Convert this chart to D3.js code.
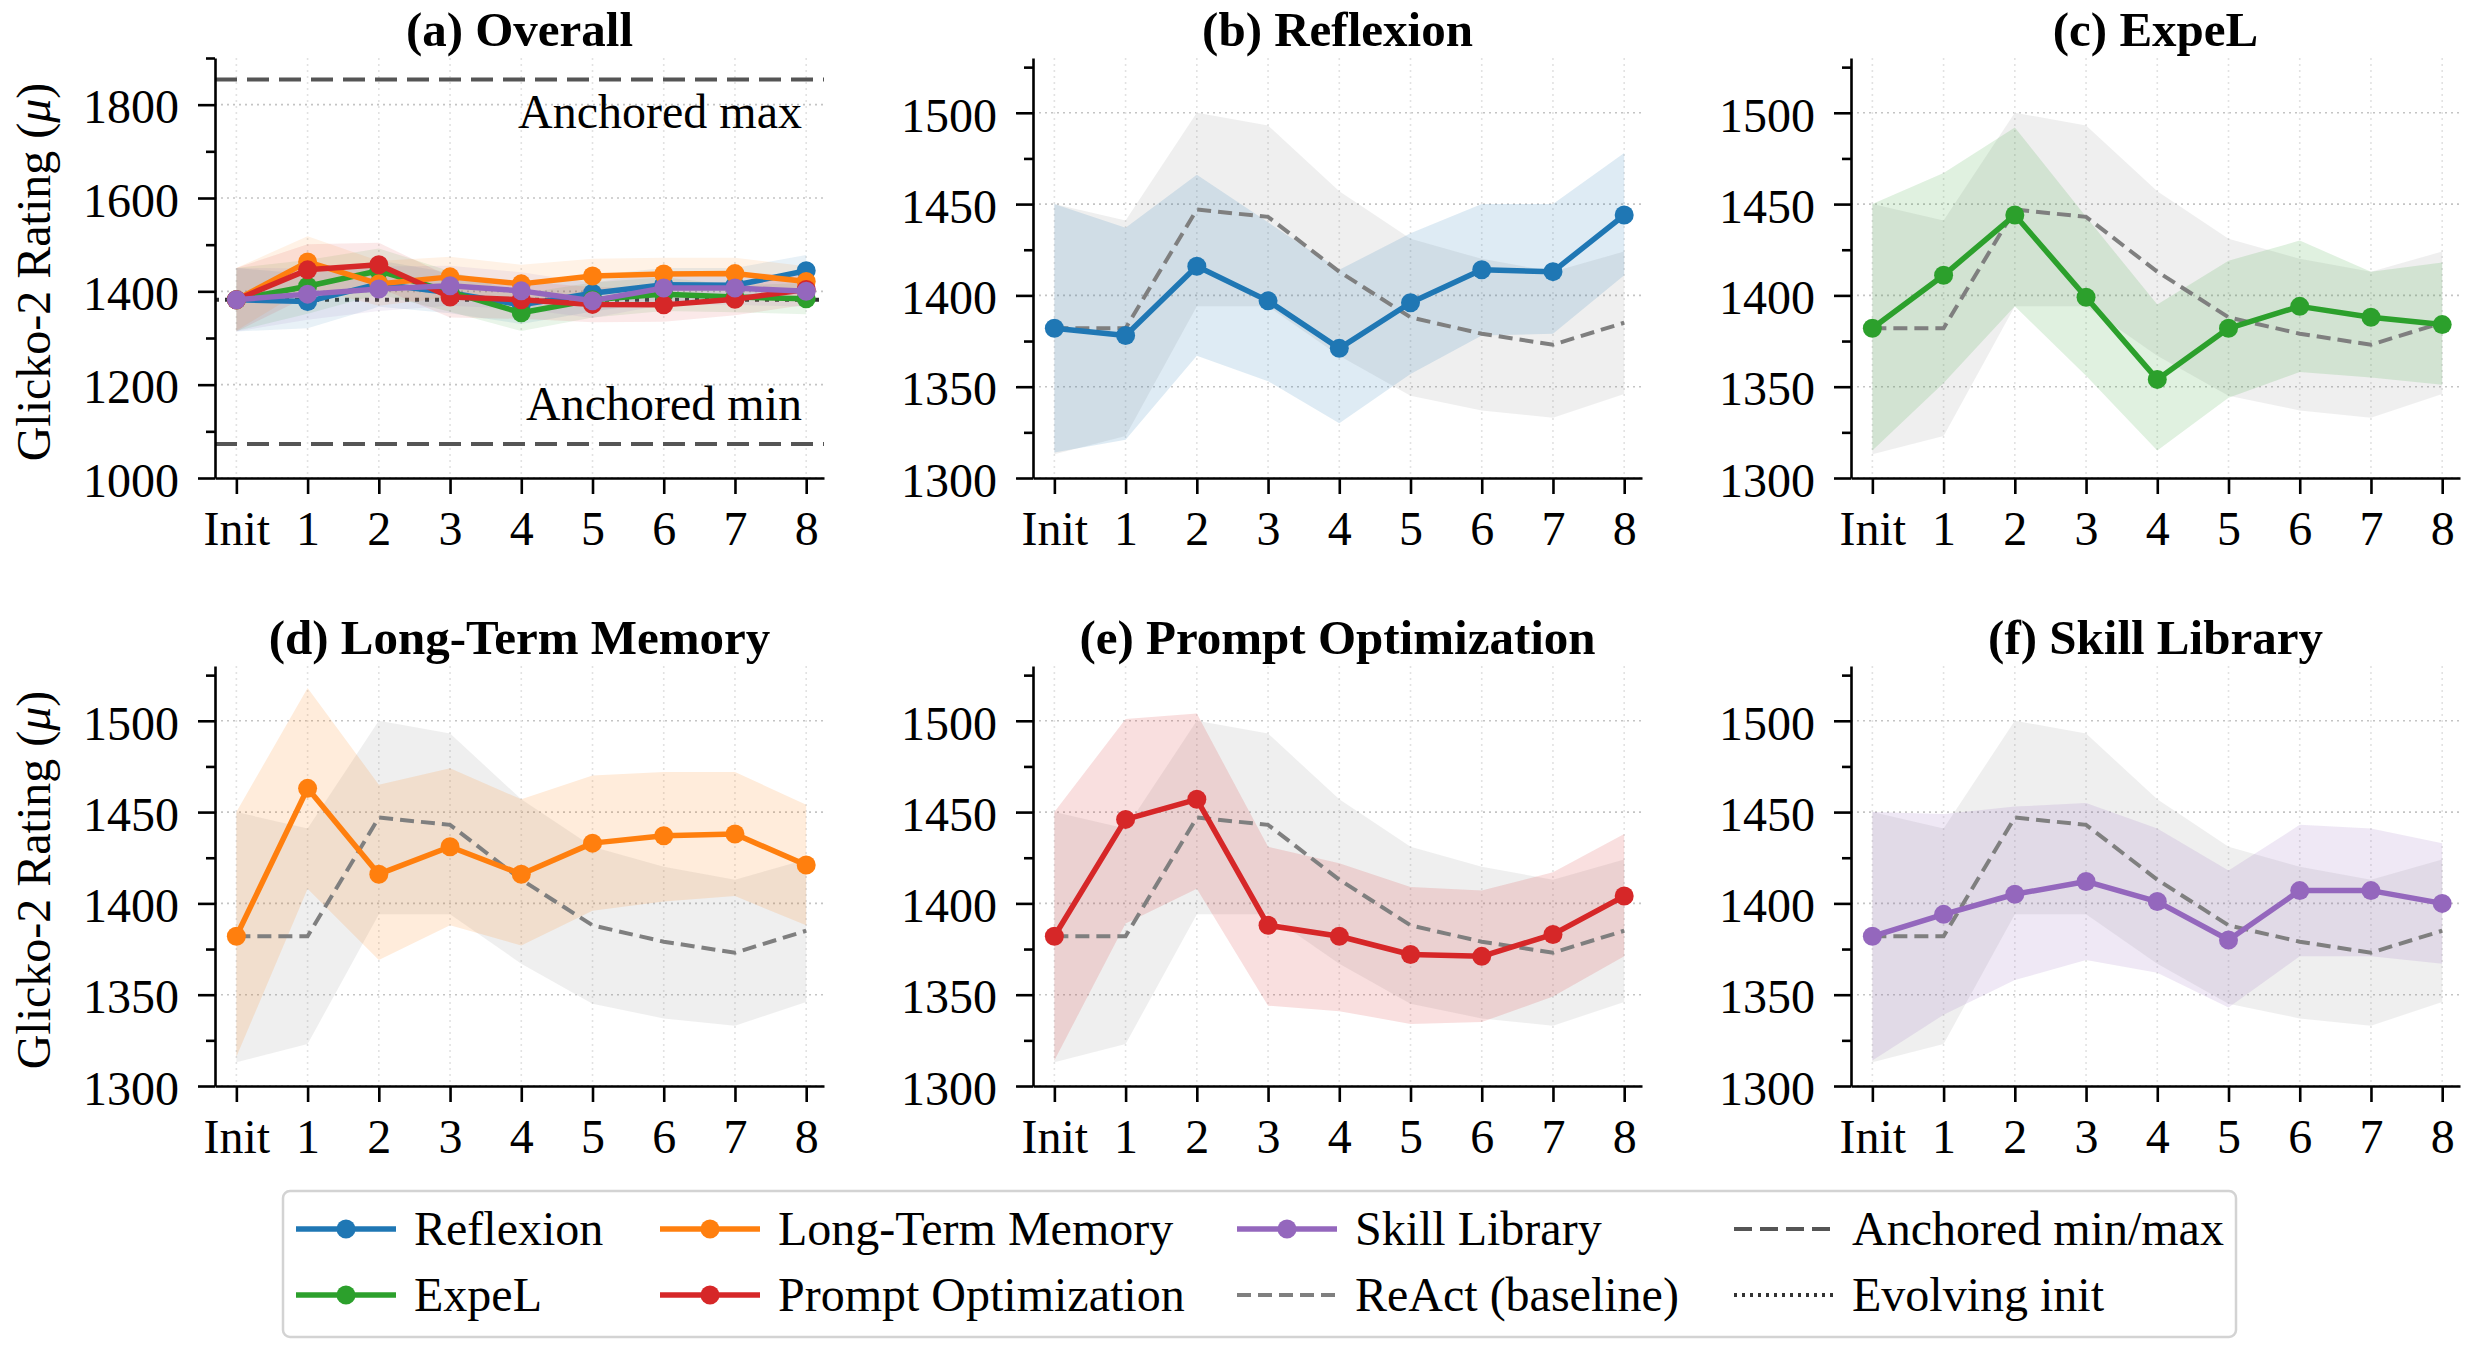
<!DOCTYPE html>
<html>
<head>
<meta charset="utf-8">
<script src="https://cdn.jsdelivr.net/npm/d3@7"></script>
<style>
  body { margin: 0; background: #fff; }
  svg text { font-family: "Liberation Serif", "DejaVu Serif", serif; fill: #000; }
</style>
</head>
<body>
<svg width="2470" height="1348"></svg>
<script>
// x categories
var steps = ["Init", "1", "2", "3", "4", "5", "6", "7", "8"];

var methodNames = ["Reflexion", "ExpeL", "Long-Term Memory", "Prompt Optimization", "Skill Library"];
var methodColors = ["#1f77b4", "#2ca02c", "#ff7f0e", "#d62728", "#9467bd"];
var panelTitles = ["(a) Overall", "(b) Reflexion", "(c) ExpeL", "(d) Long-Term Memory", "(e) Prompt Optimization", "(f) Skill Library"];

// mean rating and band per method
var reflexionMu = [1382, 1378, 1416, 1397, 1371, 1396, 1414, 1413, 1444];
var reflexionLo = [1314, 1321, 1367, 1353, 1330, 1357, 1378, 1379, 1411];
var reflexionHi = [1450, 1437, 1466, 1440, 1414, 1434, 1450, 1450, 1478];

var expelMu = [1382, 1411, 1444, 1399, 1354, 1382, 1394, 1388, 1384];
var expelLo = [1315, 1352, 1394, 1356, 1315, 1344, 1358, 1355, 1351];
var expelHi = [1450, 1467, 1492, 1443, 1395, 1419, 1430, 1413, 1418];

var ltmMu = [1382, 1463, 1416, 1431, 1416, 1433, 1437, 1438, 1421];
var ltmLo = [1316, 1408, 1369, 1388, 1377, 1396, 1401, 1404, 1388];
var ltmHi = [1450, 1518, 1465, 1474, 1457, 1470, 1472, 1472, 1454];

var promptMu = [1382, 1446, 1457, 1388, 1382, 1372, 1371, 1383, 1404];
var promptLo = [1314, 1389, 1408, 1344, 1341, 1334, 1335, 1349, 1371];
var promptHi = [1450, 1501, 1504, 1431, 1422, 1409, 1407, 1417, 1438];

var skillMu = [1382, 1394, 1405, 1412, 1401, 1380, 1407, 1407, 1400];
var skillLo = [1314, 1339, 1358, 1369, 1362, 1343, 1371, 1371, 1367];
var skillHi = [1450, 1449, 1453, 1455, 1441, 1418, 1443, 1441, 1433];

// ReAct baseline
var reactMu = [1382, 1382, 1447, 1443, 1413, 1388, 1379, 1373, 1385];
var reactLo = [1313, 1323, 1394, 1394, 1367, 1345, 1337, 1333, 1346];
var reactHi = [1450, 1441, 1500, 1493, 1457, 1431, 1420, 1413, 1424];

var anchoredMin = 1073;
var anchoredMax = 1854;
var evolvingInit = 1382;

var overallTicks = [1000, 1200, 1400, 1600, 1800];
var overallMinor = [1100, 1300, 1500, 1700, 1900];
var zoomTicks = [1300, 1350, 1400, 1450, 1500];
var zoomMinor = [1325, 1375, 1425, 1475, 1525];

var mus = [reflexionMu, expelMu, ltmMu, promptMu, skillMu];
var los = [reflexionLo, expelLo, ltmLo, promptLo, skillLo];
var his = [reflexionHi, expelHi, ltmHi, promptHi, skillHi];

var svg = d3.select("svg");
var colLeft = [215, 1033, 1851];
var rowTop = [58, 666];
var plotW = 609;
var plotH = 420;
var font = 48;
var lineW = 5.5;
var dotR = 9.5;

function seriesOf(i) {
  return steps.map(function (s, k) { return { k: k, mu: mus[i][k], lo: los[i][k], hi: his[i][k] }; });
}
var reactSeries = steps.map(function (s, k) { return { k: k, mu: reactMu[k], lo: reactLo[k], hi: reactHi[k] }; });

function drawPanel(p) {
  var col = p % 3, row = Math.floor(p / 3);
  var left = colLeft[col], top = rowTop[row];
  var overall = p === 0;

  var x = d3.scaleLinear().domain([-0.3, 8.25]).range([left, left + plotW]);
  var y = d3.scaleLinear()
    .domain(overall ? [1000, 1900] : [1300, 1530])
    .range([top + plotH, top]);

  var g = svg.append("g");

  // grid
  var majors = overall ? overallTicks : zoomTicks;
  g.append("g").selectAll("line").data(majors).join("line")
    .attr("x1", left).attr("x2", left + plotW)
    .attr("y1", function (d) { return y(d); }).attr("y2", function (d) { return y(d); })
    .attr("stroke", "#c4c4c4").attr("stroke-width", 1.6).attr("stroke-dasharray", "2,4");
  g.append("g").selectAll("line").data(steps).join("line")
    .attr("x1", function (d, i) { return x(i); }).attr("x2", function (d, i) { return x(i); })
    .attr("y1", top).attr("y2", top + plotH)
    .attr("stroke", "#e2e2e2").attr("stroke-width", 1.6).attr("stroke-dasharray", "2,4");

  var area = d3.area()
    .x(function (d) { return x(d.k); })
    .y0(function (d) { return y(d.lo); })
    .y1(function (d) { return y(d.hi); });
  var line = d3.line()
    .x(function (d) { return x(d.k); })
    .y(function (d) { return y(d.mu); });

  var which = overall ? [0, 1, 2, 3, 4] : [p - 1];

  if (overall) {
    [anchoredMax, anchoredMin].forEach(function (v) {
      g.append("line")
        .attr("x1", left).attr("x2", left + plotW)
        .attr("y1", y(v)).attr("y2", y(v))
        .attr("stroke", "#555").attr("stroke-width", 4).attr("stroke-dasharray", "22,10");
    });
    g.append("line")
      .attr("x1", left).attr("x2", left + plotW)
      .attr("y1", y(evolvingInit)).attr("y2", y(evolvingInit))
      .attr("stroke", "#333").attr("stroke-width", 4).attr("stroke-dasharray", "4,6");
    g.append("text").attr("x", left + 587).attr("y", y(anchoredMax) + 49)
      .attr("text-anchor", "end").style("font-size", font + "px").text("Anchored max");
    g.append("text").attr("x", left + 587).attr("y", y(anchoredMin) - 24)
      .attr("text-anchor", "end").style("font-size", font + "px").text("Anchored min");
  } else {
    g.append("path").datum(reactSeries).attr("d", area)
      .attr("fill", "#7f7f7f").attr("fill-opacity", 0.12);
  }

  which.forEach(function (i) {
    g.append("path").datum(seriesOf(i)).attr("d", area)
      .attr("fill", methodColors[i]).attr("fill-opacity", overall ? 0.1 : 0.15);
  });

  if (!overall) {
    g.append("path").datum(reactSeries).attr("d", line)
      .attr("fill", "none").attr("stroke", "#7f7f7f").attr("stroke-width", 4)
      .attr("stroke-dasharray", "14,7");
  }

  which.forEach(function (i) {
    var s = seriesOf(i);
    g.append("path").datum(s).attr("d", line)
      .attr("fill", "none").attr("stroke", methodColors[i]).attr("stroke-width", lineW)
      .attr("stroke-linejoin", "round");
    g.append("g").selectAll("circle").data(s).join("circle")
      .attr("cx", function (d) { return x(d.k); })
      .attr("cy", function (d) { return y(d.mu); })
      .attr("r", dotR).attr("fill", methodColors[i]);
  });

  // axes
  var yAxis = d3.axisLeft(y).tickValues(majors).tickSize(17).tickSizeOuter(0).tickPadding(19)
    .tickFormat(d3.format("d"));
  var ya = g.append("g").attr("transform", "translate(" + left + ",0)").call(yAxis);
  var yMinor = d3.axisLeft(y).tickValues(overall ? overallMinor : zoomMinor).tickSize(9)
    .tickSizeOuter(0).tickFormat("");
  var ym = g.append("g").attr("transform", "translate(" + left + ",0)").call(yMinor);
  ym.select(".domain").remove();

  var xAxis = d3.axisBottom(x).tickValues(d3.range(steps.length)).tickSize(16).tickSizeOuter(0)
    .tickPadding(17).tickFormat(function (d) { return steps[d]; });
  var xa = g.append("g").attr("transform", "translate(0," + (top + plotH) + ")").call(xAxis);

  [ya, ym, xa].forEach(function (a) {
    a.selectAll("path, line").attr("stroke", "#000").attr("stroke-width", 2.6);
    a.selectAll("text").style("font-size", font + "px").attr("fill", "#000");
  });
  ya.selectAll("text").attr("dy", "0.38em");

  // title
  g.append("text").attr("x", left + plotW / 2).attr("y", top - 12)
    .attr("text-anchor", "middle").style("font-size", "49px").style("font-weight", "bold")
    .text(panelTitles[p]);

  if (col === 0) {
    var ty = top + plotH / 2 + 4;
    var lab = g.append("text").attr("transform", "translate(50," + ty + ") rotate(-90)")
      .attr("text-anchor", "middle").style("font-size", "48px");
    lab.append("tspan").text("Glicko-2 Rating (");
    lab.append("tspan").style("font-style", "italic").text("\u03bc");
    lab.append("tspan").text(")");
  }
}

d3.range(6).forEach(drawPanel);

// legend
var legendItems = [
  { label: methodNames[0], color: methodColors[0], dash: null, marker: true },
  { label: methodNames[1], color: methodColors[1], dash: null, marker: true },
  { label: methodNames[2], color: methodColors[2], dash: null, marker: true },
  { label: methodNames[3], color: methodColors[3], dash: null, marker: true },
  { label: methodNames[4], color: methodColors[4], dash: null, marker: true },
  { label: "ReAct (baseline)", color: "#7f7f7f", dash: "14,7", marker: false },
  { label: "Anchored min/max", color: "#555", dash: "18,8", marker: false },
  { label: "Evolving init", color: "#333", dash: "3,5", marker: false }
];
var legCols = [296, 660, 1237, 1734];
var legRows = [1229, 1295];

var lg = svg.append("g");
lg.append("rect").attr("x", 283).attr("y", 1191).attr("width", 1953).attr("height", 146)
  .attr("rx", 7).attr("fill", "#fff").attr("stroke", "#d3d3d3").attr("stroke-width", 2.5);

legendItems.forEach(function (it, i) {
  var cx = legCols[Math.floor(i / 2)], cy = legRows[i % 2];
  lg.append("line").attr("x1", cx).attr("x2", cx + 100).attr("y1", cy).attr("y2", cy)
    .attr("stroke", it.color).attr("stroke-width", it.marker ? lineW : 4)
    .attr("stroke-dasharray", it.dash);
  if (it.marker) {
    lg.append("circle").attr("cx", cx + 50).attr("cy", cy).attr("r", dotR).attr("fill", it.color);
  }
  lg.append("text").attr("x", cx + 118).attr("y", cy).attr("dy", "0.33em")
    .style("font-size", font + "px").text(it.label);
});
</script>
</body>
</html>
